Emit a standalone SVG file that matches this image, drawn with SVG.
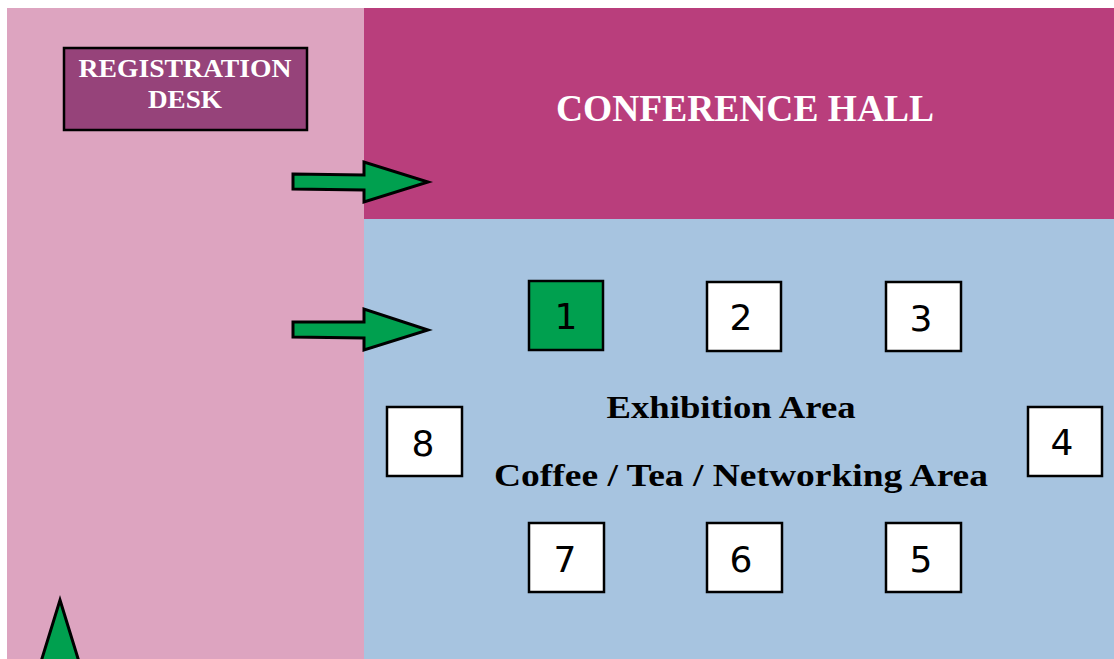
<svg xmlns="http://www.w3.org/2000/svg" width="1114" height="659" viewBox="0 0 1114 659">
<style>
.stand{fill:#ffffff;stroke:#000;stroke-width:2.5}
.num{font-family:"DejaVu Sans",Verdana,sans-serif;font-size:36px;fill:#000;text-anchor:middle}
.ser{font-family:"Liberation Serif","Times New Roman",serif;font-weight:bold;text-anchor:middle}
.arrow{fill:#00A04F;stroke:#000;stroke-width:3;stroke-linejoin:miter}
</style>
<rect x="0" y="0" width="1114" height="659" fill="#ffffff"/>
<g id="registration-zone"><rect x="7" y="8" width="357" height="651" fill="#DDA4C0"/></g>
<g id="conference-hall">
<rect x="364" y="8" width="750" height="211" fill="#B93E7C"/>
<text class="ser" x="745" y="121" font-size="38" fill="#ffffff" textLength="378" lengthAdjust="spacingAndGlyphs">CONFERENCE HALL</text>
</g>
<g id="exhibition-area">
<rect x="364" y="219" width="750" height="440" fill="#A7C4E0"/>
<text class="ser" x="731" y="418" font-size="32" fill="#000" textLength="249" lengthAdjust="spacingAndGlyphs">Exhibition Area</text>
<text class="ser" x="741" y="486" font-size="32" fill="#000" textLength="494" lengthAdjust="spacingAndGlyphs">Coffee / Tea / Networking Area</text>
</g>
<g id="registration-desk">
<rect x="64" y="48" width="243" height="82" fill="#96437A" stroke="#000" stroke-width="2.5"/>
<text class="ser" x="185" y="77" font-size="26" fill="#ffffff" textLength="213" lengthAdjust="spacingAndGlyphs">REGISTRATION</text>
<text class="ser" x="185" y="108" font-size="26" fill="#ffffff" textLength="74" lengthAdjust="spacingAndGlyphs">DESK</text>
</g>
<g id="stand-1"><rect x="529" y="281" width="74" height="69" fill="#00A04F" stroke="#000" stroke-width="2.5"/><text class="num" x="566" y="329">1</text></g>
<g id="stand-2"><rect class="stand" x="707" y="282" width="74" height="69"/><text class="num" x="741" y="330">2</text></g>
<g id="stand-3"><rect class="stand" x="886" y="282" width="75" height="69"/><text class="num" x="921" y="331">3</text></g>
<g id="stand-4"><rect class="stand" x="1028" y="407" width="74" height="69"/><text class="num" x="1062" y="455">4</text></g>
<g id="stand-5"><rect class="stand" x="886" y="523" width="75" height="69"/><text class="num" x="921" y="572">5</text></g>
<g id="stand-6"><rect class="stand" x="707" y="523" width="75" height="69"/><text class="num" x="741" y="572">6</text></g>
<g id="stand-7"><rect class="stand" x="529" y="523" width="75" height="69"/><text class="num" x="565" y="572">7</text></g>
<g id="stand-8"><rect class="stand" x="387" y="407" width="75" height="69"/><text class="num" x="423" y="456">8</text></g>
<g id="connectors">
<polygon class="arrow" points="293,174 364,175 364,162 428,182 364,202 364,190 293,189"/>
<polygon class="arrow" points="293,322 364,322 364,309 428,330 364,350 364,338 293,337"/>
<polygon class="arrow" points="60,600 80,665 40,665"/>
</g>
</svg>
